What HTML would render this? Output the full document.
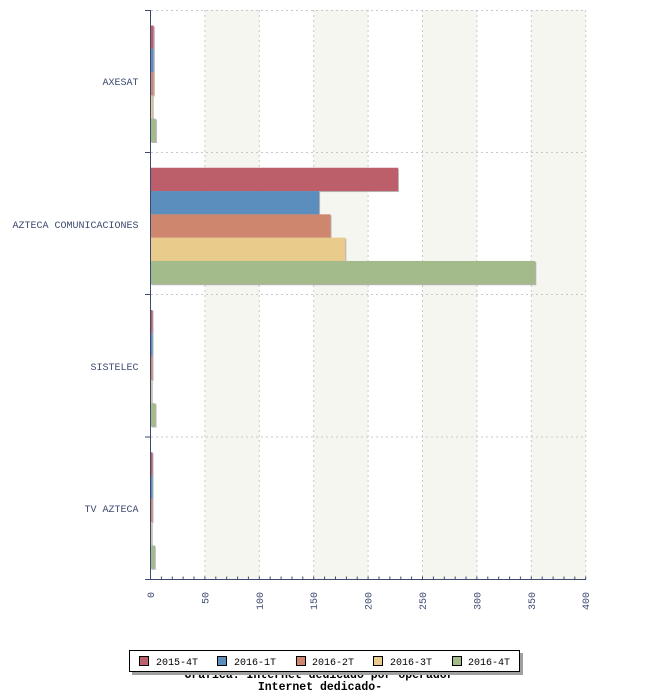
<!DOCTYPE html>
<html><head><meta charset="utf-8"><style>
html,body{margin:0;padding:0;background:#fff;}
svg{display:block;}
text{font-family:"Liberation Mono","DejaVu Sans Mono",monospace;}
</style></head><body>
<svg width="650" height="700" viewBox="0 0 650 700" xmlns="http://www.w3.org/2000/svg">
<!-- shaded bands -->
<g fill="#f6f6f1">
<rect x="204.9" y="10" width="54.4" height="569.5"/>
<rect x="313.7" y="10" width="54.4" height="569.5"/>
<rect x="422.5" y="10" width="54.4" height="569.5"/>
<rect x="531.3" y="10" width="54.4" height="569.5"/>
</g>
<!-- grid -->
<g stroke="#c8c8c8" stroke-width="1" stroke-dasharray="2,3" fill="none">
<line x1="204.9" y1="10" x2="204.9" y2="579"/>
<line x1="259.3" y1="10" x2="259.3" y2="579"/>
<line x1="313.7" y1="10" x2="313.7" y2="579"/>
<line x1="368.1" y1="10" x2="368.1" y2="579"/>
<line x1="422.5" y1="10" x2="422.5" y2="579"/>
<line x1="476.9" y1="10" x2="476.9" y2="579"/>
<line x1="531.3" y1="10" x2="531.3" y2="579"/>
<line x1="585.7" y1="10" x2="585.7" y2="579"/>
<line x1="151" y1="10.5" x2="586" y2="10.5"/>
<line x1="151" y1="152.5" x2="586" y2="152.5"/>
<line x1="151" y1="294.5" x2="586" y2="294.5"/>
<line x1="151" y1="437" x2="586" y2="437"/>
</g>
<!-- bars: scale 1.088 px/unit, origin 150.5 -->
<g>
<!-- AXESAT band top 10 -->
<g fill="#9c9698" opacity="0.7">
<rect x="151.5" y="26.5" width="3.3" height="23.3"/>
<rect x="151.5" y="49.8" width="3.3" height="23.3"/>
<rect x="151.5" y="73.1" width="3.3" height="23.3"/>
<rect x="151.5" y="96.4" width="2.2" height="23.3"/>
<rect x="151.5" y="119.7" width="5.4" height="23.3"/>
</g>
<rect x="150.5" y="25.5" width="3" height="23.3" fill="#bc5f6a"/>
<rect x="150.5" y="48.8" width="3" height="23.3" fill="#5b8ebd"/>
<rect x="150.5" y="72.1" width="3" height="23.3" fill="#cf866f"/>
<rect x="150.5" y="95.4" width="2" height="23.3" fill="#e9cb8b"/>
<rect x="150.5" y="118.7" width="5.4" height="23.3" fill="#a3bb8b"/>

<!-- AZTECA COMUNICACIONES band top 152.25 -->
<g fill="#9c9698" opacity="0.7">
<rect x="151.5" y="168.75" width="247.5" height="23.3"/>
<rect x="151.5" y="192.05" width="168.6" height="23.3"/>
<rect x="151.5" y="215.35" width="180" height="23.3"/>
<rect x="151.5" y="238.65" width="194.8" height="23.3"/>
<rect x="151.5" y="261.95" width="384.8" height="23.3"/>
</g>
<rect x="150.5" y="167.75" width="247.5" height="23.3" fill="#bc5f6a"/>
<rect x="150.5" y="191.05" width="168.6" height="23.3" fill="#5b8ebd"/>
<rect x="150.5" y="214.35" width="180" height="23.3" fill="#cf866f"/>
<rect x="150.5" y="237.65" width="194.8" height="23.3" fill="#e9cb8b"/>
<rect x="150.5" y="260.95" width="384.8" height="23.3" fill="#a3bb8b"/>

<!-- SISTELEC band top 294.5 -->
<g fill="#9c9698" opacity="0.7">
<rect x="151.5" y="311" width="2" height="23.3"/>
<rect x="151.5" y="334.3" width="2" height="23.3"/>
<rect x="151.5" y="357.6" width="2" height="23.3"/>
<rect x="151.5" y="380.9" width="1.2" height="23.3"/>
<rect x="151.5" y="404.2" width="5" height="23.3"/>
</g>
<rect x="150.5" y="310" width="2" height="23.3" fill="#bc5f6a"/>
<rect x="150.5" y="333.3" width="2" height="23.3" fill="#5b8ebd"/>
<rect x="150.5" y="356.6" width="2" height="23.3" fill="#cf866f"/>
<rect x="150.5" y="379.9" width="1.2" height="23.3" fill="#e9cb8b"/>
<rect x="150.5" y="403.2" width="5" height="23.3" fill="#a3bb8b"/>

<!-- TV AZTECA band top 436.75 -->
<g fill="#9c9698" opacity="0.7">
<rect x="151.5" y="453.25" width="2" height="23.3"/>
<rect x="151.5" y="476.55" width="2" height="23.3"/>
<rect x="151.5" y="499.85" width="2" height="23.3"/>
<rect x="151.5" y="523.15" width="1.2" height="23.3"/>
<rect x="151.5" y="546.45" width="4.3" height="23.3"/>
</g>
<rect x="150.5" y="452.25" width="2" height="23.3" fill="#bc5f6a"/>
<rect x="150.5" y="475.55" width="2" height="23.3" fill="#5b8ebd"/>
<rect x="150.5" y="498.85" width="2" height="23.3" fill="#cf866f"/>
<rect x="150.5" y="522.15" width="1.2" height="23.3" fill="#e9cb8b"/>
<rect x="150.5" y="545.45" width="4.3" height="23.3" fill="#a3bb8b"/>
</g>

<!-- axes -->
<g stroke="#3d4a70" stroke-width="1" fill="none">
<line x1="150.5" y1="10" x2="150.5" y2="580"/>
<line x1="145" y1="579.5" x2="586" y2="579.5"/>
<line x1="145" y1="10.5" x2="150.5" y2="10.5"/>
<line x1="145" y1="152.5" x2="150.5" y2="152.5"/>
<line x1="145" y1="294.5" x2="150.5" y2="294.5"/>
<line x1="145" y1="437" x2="150.5" y2="437"/>
</g>
<g stroke="#3d4a70" stroke-width="1" id="ticks">
<path d="M161.4 576.5V579.5M172.3 576.5V579.5M183.1 576.5V579.5M194 576.5V579.5M204.9 576.5V579.5M215.8 576.5V579.5M226.7 576.5V579.5M237.6 576.5V579.5M248.4 576.5V579.5M259.3 576.5V579.5M270.2 576.5V579.5M281.1 576.5V579.5M292 576.5V579.5M302.8 576.5V579.5M313.7 576.5V579.5M324.6 576.5V579.5M335.5 576.5V579.5M346.4 576.5V579.5M357.2 576.5V579.5M368.1 576.5V579.5M379 576.5V579.5M389.9 576.5V579.5M400.8 576.5V579.5M411.6 576.5V579.5M422.5 576.5V579.5M433.4 576.5V579.5M444.3 576.5V579.5M455.2 576.5V579.5M466 576.5V579.5M476.9 576.5V579.5M487.8 576.5V579.5M498.7 576.5V579.5M509.6 576.5V579.5M520.4 576.5V579.5M531.3 576.5V579.5M542.2 576.5V579.5M553.1 576.5V579.5M564 576.5V579.5M574.8 576.5V579.5M585.7 576.5V579.5"/>
</g>

<!-- category labels -->
<g fill="#3d4a70" font-size="10" text-anchor="end">
<text x="138.5" y="85">AXESAT</text>
<text x="138.5" y="228">AZTECA COMUNICACIONES</text>
<text x="138.5" y="370">SISTELEC</text>
<text x="138.5" y="512">TV AZTECA</text>
</g>

<!-- x tick labels -->
<g fill="#3d4a70" font-size="10" text-anchor="end">
<text transform="translate(154,592) rotate(-90)">0</text>
<text transform="translate(208.4,592) rotate(-90)">50</text>
<text transform="translate(262.8,592) rotate(-90)">100</text>
<text transform="translate(317.2,592) rotate(-90)">150</text>
<text transform="translate(371.6,592) rotate(-90)">200</text>
<text transform="translate(426,592) rotate(-90)">250</text>
<text transform="translate(480.4,592) rotate(-90)">300</text>
<text transform="translate(534.8,592) rotate(-90)">350</text>
<text transform="translate(589.2,592) rotate(-90)">400</text>
</g>

<!-- title -->
<g fill="#000" font-size="11.5" font-weight="bold" text-anchor="middle">
<text x="319" y="678">Grafica: Internet dedicado por operador</text>
<text x="320" y="690">Internet dedicado-</text>
</g>

<!-- legend -->
<rect x="132" y="653" width="391" height="22" fill="#a0a0a0"/>
<rect x="129.5" y="650.5" width="390" height="21" fill="#fff" stroke="#000" stroke-width="1"/>
<g stroke="#000" stroke-width="1">
<rect x="139.5" y="656.5" width="9" height="9" fill="#bc5f6a"/>
<rect x="217.5" y="656.5" width="9" height="9" fill="#5b8ebd"/>
<rect x="296.5" y="656.5" width="9" height="9" fill="#cf866f"/>
<rect x="373.5" y="656.5" width="9" height="9" fill="#e9cb8b"/>
<rect x="452.5" y="656.5" width="9" height="9" fill="#a3bb8b"/>
</g>
<g fill="#000" font-size="10">
<text x="156" y="665">2015-4T</text>
<text x="234" y="665">2016-1T</text>
<text x="312" y="665">2016-2T</text>
<text x="390" y="665">2016-3T</text>
<text x="468" y="665">2016-4T</text>
</g>
</svg>
</body></html>
